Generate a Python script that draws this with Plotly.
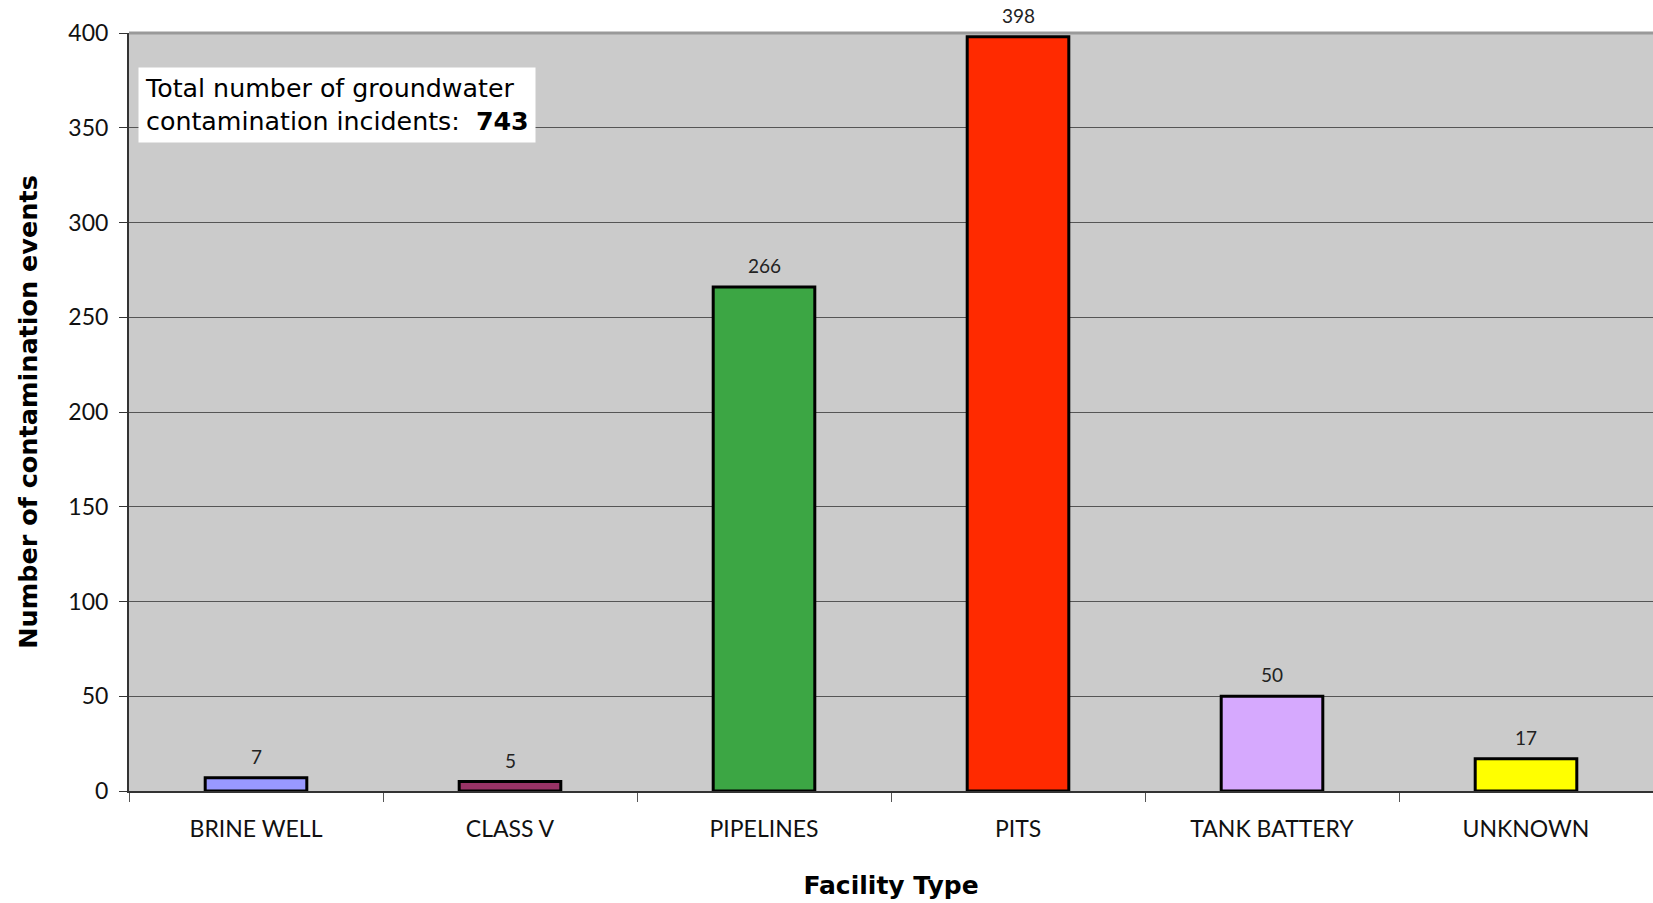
import plotly.graph_objects as go

categories = ["BRINE WELL", "CLASS V", "PIPELINES", "PITS", "TANK BATTERY", "UNKNOWN"]
values = [7, 5, 266, 398, 50, 17]
colors = ["#9999ff", "#993366", "#3ca644", "#ff2a00", "#d6a9fe", "#ffff00"]
y_ticks = [0, 50, 100, 150, 200, 250, 300, 350, 400]
total = sum(values)

FONT = "Lato"
WIDE = "DejaVu Sans"

fig = go.Figure()
fig.add_trace(go.Bar(
    x=categories, y=values,
    marker=dict(color=colors, line=dict(color="#000000", width=3)),
    width=0.4,
))

value_labels = [dict(x=c, y=v, xref="x", yref="y", text=str(v), showarrow=False,
                     yanchor="bottom", yshift=8,
                     font=dict(family=FONT, size=19, color="#222222"))
                for c, v in zip(categories, values)]

fig.update_layout(
    width=1653, height=903,
    margin=dict(l=129, r=0, t=33, b=112),
    paper_bgcolor="#ffffff",
    plot_bgcolor="#cbcbcb",
    showlegend=False,
    font=dict(family=FONT, color="#000000"),
    xaxis=dict(
        tickfont=dict(family=FONT, size=23, color="#111111"),
        ticks="outside", ticklen=9, tickcolor="#555555", tickwidth=1,
        tickson="boundaries", ticklabelstandoff=16,
        showline=True, linecolor="#333333", linewidth=2,
        title=dict(text="<b>Facility Type</b>", font=dict(family=WIDE, size=25, color="#000000"), standoff=36),
        showgrid=False,
    ),
    yaxis=dict(
        range=[0, 400],
        tickvals=y_ticks,
        tickfont=dict(family=FONT, size=23, color="#111111"),
        ticks="outside", ticklen=8, tickcolor="#333333", tickwidth=1,
        ticklabelstandoff=6,
        showline=True, linecolor="#333333", linewidth=2,
        gridcolor="#555555", gridwidth=1,
        zeroline=False,
        title=dict(text="<b>Number of contamination events</b>", font=dict(family=WIDE, size=25.5, color="#000000"), standoff=23),
    ),
    annotations=value_labels + [dict(
        xref="paper", yref="paper", x=0.006, y=0.955, xanchor="left", yanchor="top",
        text="Total number of groundwater<br>contamination incidents:  <b>%d</b>" % total,
        showarrow=False, align="left",
        font=dict(family=WIDE, size=25.3, color="#000000"),
        bgcolor="#ffffff", borderpad=6,
    )],
    shapes=[dict(type="line", xref="paper", yref="paper", x0=0, x1=1, y0=1, y1=1,
                 line=dict(color="#999999", width=3))],
)

fig.write_html("out.html", config={"displayModeBar": False},
               post_script="document.body.style.margin='0';document.body.style.overflow='hidden';")
